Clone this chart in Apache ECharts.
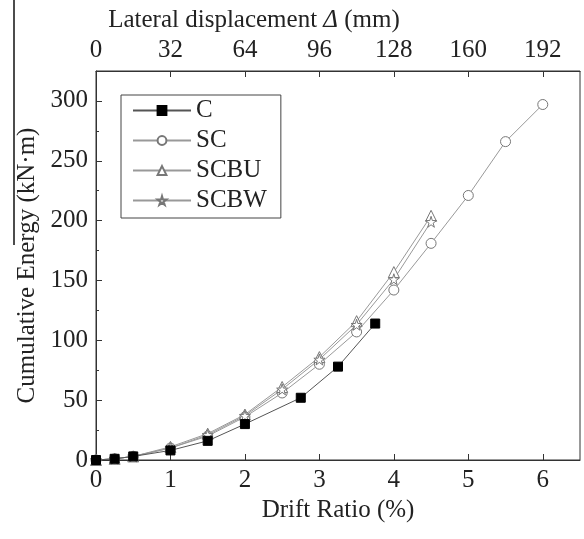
<!DOCTYPE html>
<html><head><meta charset="utf-8">
<script src="https://cdn.jsdelivr.net/npm/echarts@6/dist/echarts.min.js"></script>
<style>html,body{margin:0;padding:0;background:#fff}#c{width:584px;height:539px}</style>
</head><body><div id="c"></div>
<script>
const driftC = [0, 0.25, 0.5, 1, 1.5, 2, 2.75, 3.25, 3.75];
const energyC = [0, 1, 3, 8, 16, 30, 52, 78, 114];
const driftSC = [0, 0.25, 0.5, 1, 1.5, 2, 2.5, 3, 3.5, 4, 4.5, 5, 5.5, 6];
const energySC = [0, 1, 3, 10, 20, 36, 56, 80, 107, 142, 181, 221, 266, 297];
const driftSCBU = [0, 0.25, 0.5, 1, 1.5, 2, 2.5, 3, 3.5, 4, 4.5];
const energySCBU = [0, 1, 3, 11, 22, 38, 61, 86, 116, 157, 204];
const driftSCBW = [0, 0.25, 0.5, 1, 1.5, 2, 2.5, 3, 3.5, 4, 4.5];
const energySCBW = [0, 1, 3, 10, 21, 37, 59, 84, 113, 151, 199];
const seriesNames = ['C', 'SC', 'SCBU', 'SCBW'];

const font = 'Liberation Serif';
const fs = 25;
const pair = (xs, ys) => xs.map((x, i) => [x, ys[i]]);
const star = 'path://M50,0 L61,35 L98,35 L68,57 L79,91 L50,70 L21,91 L32,57 L2,35 L39,35 Z';

const chart = echarts.init(document.getElementById('c'));
const mk = (name, data, symbol, filled, size) => ({
  name, type: 'line', data, symbol, symbolSize: size, showSymbol: true,
  lineStyle: { color: filled ? '#555' : '#999', width: 1 },
  itemStyle: { color: filled ? '#000' : '#fff', borderColor: filled ? '#000' : '#777', borderWidth: 1 },
  emphasis: { disabled: true }, animation: false, z: filled ? 3 : 2
});
chart.setOption({
  animation: false,
  backgroundColor: '#fff',
  grid: { left: 96, right: 4, top: 71, bottom: 79, show: true, borderColor: '#333', borderWidth: 1 },
  legend: {
    left: 121, top: 95, orient: 'vertical', itemWidth: 58, itemHeight: 11, itemGap: 5,
    padding: [3, 14, 5, 11], borderColor: '#444', borderWidth: 1,
    textStyle: { fontFamily: font, fontSize: fs, color: '#222' },
    data: seriesNames
  },
  xAxis: [{
    type: 'value', position: 'bottom', min: 0, max: 6.5, interval: 1,
    name: 'Drift Ratio (%)', nameLocation: 'middle', nameGap: 33,
    nameTextStyle: { fontFamily: font, fontSize: fs, color: '#222', verticalAlign: 'top' },
    axisLine: { show: true, onZero: false, lineStyle: { color: '#333' } },
    axisTick: { inside: true, length: 6, lineStyle: { color: '#333' } },
    axisLabel: { fontFamily: font, fontSize: fs, color: '#222', margin: 8, showMaxLabel: false },
    splitLine: { show: false }
  }, {
    type: 'value', position: 'top', min: 0, max: 208, interval: 32,
    name: '{a|Lateral displacement }{i|Δ}{a| (mm)}', nameLocation: 'middle', nameGap: 37,
    nameTextStyle: { padding: [0, 168, 0, 0], rich: { a: { fontFamily: font, fontSize: fs, color: '#222' }, i: { fontFamily: font, fontSize: fs, color: '#222', fontStyle: 'italic' } } },
    axisLine: { show: true, onZero: false, lineStyle: { color: '#333' } },
    axisTick: { inside: true, length: 6, lineStyle: { color: '#333' } },
    axisLabel: { fontFamily: font, fontSize: fs, color: '#222', margin: 8, showMaxLabel: false },
    splitLine: { show: false }
  }],
  yAxis: {
    type: 'value', min: 0, max: 325, interval: 50,
    name: 'Cumulative Energy (kN·m)', nameLocation: 'middle', nameGap: 48,
    nameTextStyle: { fontFamily: font, fontSize: fs, color: '#222' },
    axisLine: { show: true, lineStyle: { color: '#333' } },
    axisTick: { inside: true, length: 6, lineStyle: { color: '#333' } },
    minorTick: { show: true, splitNumber: 2, length: 3, lineStyle: { color: '#333' } },
    axisLabel: { fontFamily: font, fontSize: fs, color: '#222', margin: 8, showMaxLabel: false },
    splitLine: { show: false }
  },
  graphic: [{ type: 'line', shape: { x1: 14, y1: 0, x2: 14, y2: 245 }, style: { stroke: '#111', lineWidth: 1.5 } }],
  series: [
    mk('C', pair(driftC, energyC), 'rect', true, 9),
    mk('SC', pair(driftSC, energySC), 'circle', false, 10),
    mk('SCBU', pair(driftSCBU, energySCBU), 'triangle', false, 11),
    mk('SCBW', pair(driftSCBW, energySCBW), star, false, 11)
  ]
});
</script></body></html>
